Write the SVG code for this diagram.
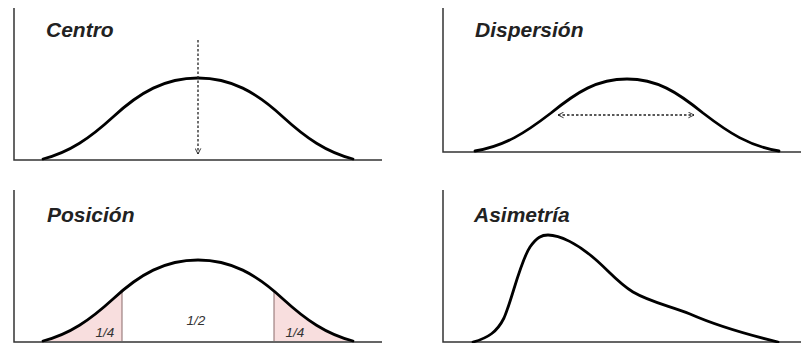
<svg xmlns="http://www.w3.org/2000/svg" width="801" height="343" viewBox="0 0 801 343">
<style>
.axis{stroke:#333;stroke-width:1.5;fill:none}
.curve{stroke:#000;stroke-width:2.8;fill:none;stroke-linejoin:round;stroke-linecap:round}
.title{font-family:"Liberation Sans",Arial,sans-serif;font-style:italic;font-weight:bold;font-size:21px;fill:#222}
.frac{font-family:"Liberation Sans",Arial,sans-serif;font-style:italic;font-size:13.5px;fill:#333}
.dots{stroke:#222;stroke-width:1.3;stroke-dasharray:2.5,2;fill:none}
.cut{stroke:#8a6a6a;stroke-width:1}
</style>
<defs>
<marker id="ah" viewBox="0 0 10 10" refX="9" refY="5" markerWidth="7" markerHeight="7" orient="auto-start-reverse" markerUnits="userSpaceOnUse">
<path d="M1,1 L9,5 L1,9" fill="none" stroke="#222" stroke-width="1.3"/>
</marker>
<clipPath id="under">
<path d="M43,341 C70,334 90,320 113,299 C140,274 165,260 198,260 C231,260 256,274 283,299 C306,320 326,334 353,341 Z"/>
</clipPath>
</defs>

<g id="centro">
<path class="axis" d="M14,8 V160 H382"/>
<path class="curve" d="M43,159 C70,152 90,138 113,117 C140,92 165,78 198,78 C231,78 256,92 283,117 C306,138 326,152 353,159"/>
<text class="title" x="46" y="37">Centro</text>
</g>

<g id="dispersion">
<path class="axis" d="M443,8 V152 H801"/>
<path class="curve" d="M475,151 C505,146 525,133 551,113 C577,92 597,79 627,79 C657,79 677,92 703,113 C729,133 749,146 779,151"/>
<text class="title" x="475" y="37">Dispersión</text>
</g>

<g id="posicion">
<path class="axis" d="M14,190 V342 H382"/>
<g clip-path="url(#under)">
<rect x="40" y="250" width="82" height="92" fill="#f8dede"/>
<rect x="274" y="250" width="82" height="92" fill="#f8dede"/>
<line class="cut" x1="122" y1="250" x2="122" y2="342"/>
<line class="cut" x1="274" y1="250" x2="274" y2="342"/>
</g>
<path class="curve" d="M43,341 C70,334 90,320 113,299 C140,274 165,260 198,260 C231,260 256,274 283,299 C306,320 326,334 353,341"/>
<text class="title" x="47" y="222">Posición</text>
<text class="frac" x="105" y="337" text-anchor="middle">1/4</text>
<text class="frac" x="196" y="325" text-anchor="middle">1/2</text>
<text class="frac" x="295" y="337" text-anchor="middle">1/4</text>
</g>

<g id="asimetria">
<path class="axis" d="M443,190 V342 H801"/>
<path class="curve" d="M473,342 C488,338 497,332 504,318 C512,300 520,262 530,247 C537,237 542,235 548,235 C560,235 578,244 595,259 C608,270 618,283 633,292 C650,302 670,306 690,314 C715,325 745,334 778,342"/>
<text class="title" x="474" y="222">Asimetría</text>
</g>

<g id="connectors">
<line class="dots" x1="198" y1="40" x2="198" y2="154" marker-end="url(#ah)"/>
<line class="dots" x1="558" y1="115" x2="694" y2="115" marker-start="url(#ah)" marker-end="url(#ah)"/>
</g>
</svg>
